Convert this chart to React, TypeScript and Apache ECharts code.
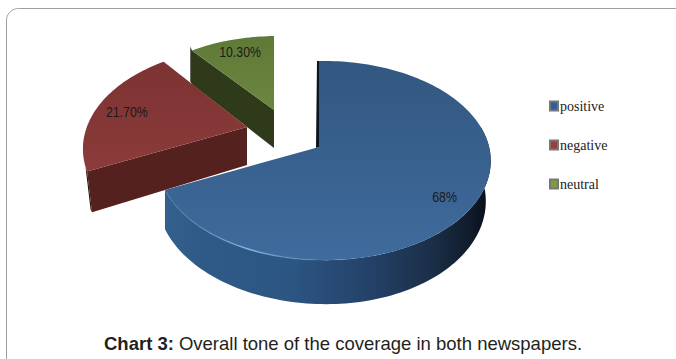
import React, { useEffect, useRef } from "react";
import * as echarts from "echarts";

// Shares of the overall tone, in percent, and the texts printed on each slice.
const categories = ["positive", "negative", "neutral"];
const shares = [68, 21.7, 10.3];
const shareLabels = ["68%", "21.70%", "10.30%"];

// Where each slice sits: its apex, its size relative to the full disc, its foreshortening.
const apexX = [319, 247, 274];
const apexY = [147, 127, 110];
const sliceScaleX = [1, 1, 0.93];
const sliceScaleY = [1, 1, 0.86];
const depthK = [0.136, 0.22, 0.136];
const labelReach = [0.9, 0.75, 0.72];
const labelNudgeX = [-12, -7, -2];
const labelNudgeY = [-1, 2, -6];

// Tilted disc: radii and the sideways foreshortening.
const RX = 165;
const RY = 97.7;
const SIDE_K = 0.03;
const THICKNESS = 38;
const WALL_TAPER = 5;

const topFillFar = ["#325780", "#7c3332", "#5f7a37"];
const topFillNear = ["#3f6b9d", "#8b3b3a", "#6c8640"];
const legendFill = ["#2f5f9e", "#a33a3a", "#7f9a3f"];

function rim(i: number, deg: number, radius = 1, drop = 0): number[] {
  const t = (deg * Math.PI) / 180;
  const s = Math.sin(t) * radius;
  const front = -Math.cos(t) * radius;
  const w = 1 / (1 - depthK[i] * front - SIDE_K * s);
  return [apexX[i] + RX * s * w * sliceScaleX[i], apexY[i] + RY * front * w * sliceScaleY[i] + drop * w];
}

function arc(i: number, from: number, to: number, drop = 0): number[][] {
  const pts: number[][] = [];
  const n = Math.max(2, Math.ceil(Math.abs(to - from) / 1.5));
  for (let j = 0; j <= n; j++) {
    const deg = from + ((to - from) * j) / n;
    const p = rim(i, deg, 1, drop);
    // The lower edge of the wall pulls in slightly on the shadowed right side.
    if (drop > 0) p[0] -= WALL_TAPER * Math.max(0, Math.sin((deg * Math.PI) / 180));
    pts.push(p);
  }
  return pts;
}

function sliceRange(i: number): [number, number] {
  const total = shares.reduce((a, b) => a + b, 0);
  const before = shares.slice(0, i).reduce((a, b) => a + b, 0);
  return [(before / total) * 360, ((before + shares[i]) / total) * 360];
}

const hGrad = (x1: number, x2: number, stops: [number, string][]) =>
  new echarts.graphic.LinearGradient(x1, 0, x2, 0, stops.map(([offset, color]) => ({ offset, color })), true);
const vGrad = (y1: number, y2: number, c1: string, c2: string) =>
  new echarts.graphic.LinearGradient(0, y1, 0, y2, [{ offset: 0, color: c1 }, { offset: 1, color: c2 }], true);

function renderSlice(i: number) {
  const [a0, a1] = sliceRange(i);
  const apex = [apexX[i], apexY[i]];
  const children: any[] = [];

  if (i === 0) {
    // Outer wall of the large slice, lit from the left and falling into shadow on the right.
    const from = 78;
    const wall = [...arc(0, from, a1), ...arc(0, a1, from, THICKNESS)];
    children.push({
      type: "polygon",
      shape: { points: wall },
      style: {
        fill: hGrad(160, 490, [
          [0, "#34608f"],
          [0.12, "#2f5a88"],
          [0.4, "#2c5582"],
          [0.62, "#24436a"],
          [0.82, "#1b2f48"],
          [0.95, "#0e1a29"],
          [1, "#060c14"],
        ]),
      },
    });
    // Narrow shadowed edge left of the rear cut.
    const top = rim(0, 0);
    children.push({
      type: "polygon",
      shape: { points: [[top[0] - 2, top[1]], top, apex, [apex[0] - 3, apex[1] + 1]] },
      style: { fill: "#0b1420" },
    });
  } else {
    // Cut wall facing the viewer; its lower outer corner leans back towards the apex.
    const outer = rim(i, a0);
    const low = rim(i, a0, 1, THICKNESS);
    const lean = i === 1 ? 5 : 0;
    children.push({
      type: "polygon",
      shape: { points: [[outer[0] - 1.5, outer[1] - 4], outer, [low[0] + lean, low[1]], [low[0] + lean - 1.5, low[1] - 3]] },
      style: { fill: i === 1 ? "#1a0b0a" : "#141a0a" },
    });
    children.push({
      type: "polygon",
      shape: { points: [apex, outer, [low[0] + lean, low[1]], [apex[0], apex[1] + THICKNESS]] },
      style: { fill: i === 1 ? "#54211e" : "#2e3a1a" },
    });
  }

  const face = [apex, ...arc(i, a0, a1)];
  const ys = face.map((p) => p[1]);
  children.push({
    type: "polygon",
    shape: { points: face },
    style: { fill: vGrad(Math.min(...ys), Math.max(...ys), topFillFar[i], topFillNear[i]) },
  });

  if (i === 0) {
    // Bright glint on the front rim.
    children.push({
      type: "polyline",
      shape: { points: arc(0, 172, a1 - 2) },
      style: {
        fill: "none",
        lineWidth: 1.5,
        stroke: hGrad(168, 330, [
          [0, "rgba(70,120,170,0.2)"],
          [0.5, "rgba(130,185,225,0.95)"],
          [1, "rgba(80,130,180,0.1)"],
        ]),
      },
    });
  }

  const mid = (a0 + a1) / 2;
  const [lx, ly] = rim(i, mid, labelReach[i]);
  children.push({
    type: "text",
    x: lx + labelNudgeX[i],
    y: ly + labelNudgeY[i],
    scaleX: 0.88,
    style: {
      text: shareLabels[i],
      fill: "#1a1a1a",
      font: "14px 'Liberation Sans'",
      textAlign: "center",
      textVerticalAlign: "middle",
    },
  });
  return { type: "group", children };
}

export default function App() {
  const ref = useRef<HTMLDivElement>(null);

  useEffect(() => {
    const chart = echarts.init(ref.current!, undefined, { renderer: "svg" });
    // Painted from the back slice to the front one.
    const order = [2, 1, 0];
    chart.setOption({
      animation: false,
      backgroundColor: "#ffffff",
      title: {
        text: "{b|Chart 3:} {r|Overall tone of the coverage in both newspapers.}",
        left: 104,
        top: 334,
        padding: 0,
        textStyle: {
          fontWeight: "normal",
          rich: {
            b: { fontFamily: "Liberation Sans", fontSize: 18.5, fontWeight: "bold", color: "#231f20" },
            r: { fontFamily: "Liberation Sans", fontSize: 18.5, fontWeight: "normal", color: "#231f20" },
          },
        },
      },
      legend: {
        orient: "vertical",
        left: 549,
        top: 99,
        padding: 0,
        itemWidth: 8,
        itemHeight: 9,
        itemGap: 25,
        icon: "rect",
        data: categories,
        selectedMode: false,
        textStyle: { fontFamily: "Liberation Serif", fontSize: 14, color: "#222222", padding: [0, 0, 0, -3] },
      },
      graphic: [
        {
          type: "polyline",
          silent: true,
          shape: {
            points: (() => {
              const pts: number[][] = [[6.5, 359]];
              pts.push([6.5, 20]);
              for (let a = 10; a <= 80; a += 10) {
                const t = (a * Math.PI) / 180;
                pts.push([18.5 - 12 * Math.cos(t), 20.5 - 12 * Math.sin(t)]);
              }
              pts.push([18.5, 8.5], [676, 8.5]);
              return pts;
            })(),
          },
          style: { fill: "none", stroke: "#a0a0a0", lineWidth: 1 },
        },
      ],
      series: order.map((i) => ({
        type: "custom",
        name: categories[i],
        coordinateSystem: "none",
        silent: true,
        itemStyle: { color: legendFill[i], borderColor: "#777777", borderWidth: 1 },
        data: [[shares[i]]],
        renderItem: () => renderSlice(i),
      })),
    });
    return () => chart.dispose();
  }, []);

  return <div ref={ref} style={{ position: "absolute", left: 0, top: 0, width: 676, height: 359 }} />;
}
